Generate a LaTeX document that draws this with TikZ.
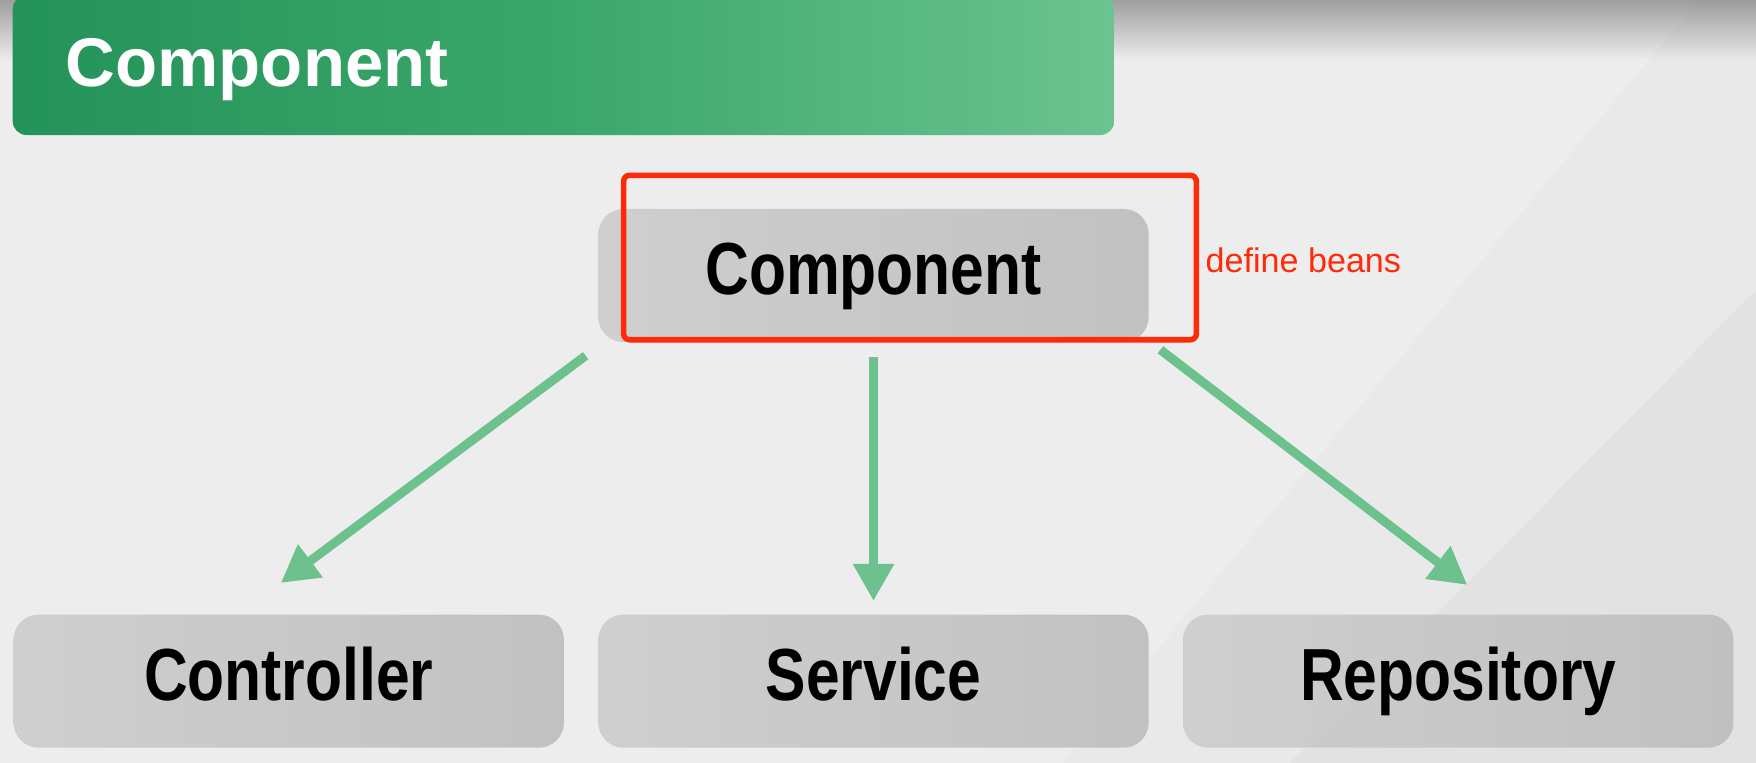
\documentclass[tikz,border=0pt]{standalone}
\usepackage{fontspec}
\setmainfont{Liberation Sans}
\newfontfamily\boxfont{Liberation Sans}[FakeStretch=0.82]
\usepackage{xcolor}
\usepackage{tikz}
\usetikzlibrary{positioning,arrows.meta,fadings}
\tikzset{>={Triangle[length=3.7mm,width=3.9mm]}}

\definecolor{slidebg}{HTML}{EDEDED}
\definecolor{bandlight}{HTML}{E9E9E9}
\definecolor{banddark}{HTML}{E2E2E2}
\definecolor{bannerdark}{HTML}{24935A}
\definecolor{bannermid}{HTML}{3BA76A}
\definecolor{bannerlight}{HTML}{6CC390}
\definecolor{boxleft}{HTML}{CDCDCD}
\definecolor{boxright}{HTML}{BEBEBE}
\definecolor{flowgreen}{HTML}{6CC18D}
\definecolor{markred}{HTML}{FF2A0A}

\begin{document}
\begin{tikzpicture}[x=0.01cm, y=-0.01cm,
squarednode/.style={rectangle, rounded corners=2.5mm, left color=boxleft, right color=boxright, fill opacity=0.92, text opacity=1, minimum width=5.5cm, minimum height=1.33cm, inner sep=0pt, font=\boxfont\bfseries\fontsize{21}{24}\selectfont, text height=15.3pt, text depth=4.4pt},
banner/.style={rectangle, rounded corners=1.4mm, left color=bannerdark, right color=bannerlight, middle color=bannermid, minimum width=11.01cm, minimum height=1.40cm, inner sep=0pt},
titletext/.style={text=white, inner sep=0pt, font=\bfseries\fontsize{19.6}{22}\selectfont},
note/.style={text=markred, inner sep=0pt, font=\fontsize{9.7}{11}\selectfont},
highlight/.style={draw=markred, line width=0.055cm, rounded corners=0.6mm},
flowline/.style={->, draw=flowgreen, line width=0.09cm},
]
\useasboundingbox (0,0) rectangle (1756,763);

%Background
\fill[slidebg] (0,0) rectangle (1756,763);
\fill[bandlight] (1063,763) -- (1699,0) -- (1756,0) -- (1756,763) -- cycle;
\fill[banddark] (1290,763) -- (1756,290) -- (1756,763) -- cycle;
\fill[black, opacity=0.33, path fading=south] (0,0) rectangle (1756,60);

%Title
\node[banner](Banner) at (563.5,65) {};
\node[titletext, anchor=base west](Title) at (65,86) {Component};

%Nodes
\node[squarednode](Component) at (873.5,275.5) {Component};
\node[squarednode](Service)[below=2.71cm of Component]{Service};
\node[squarednode](Controller)[left=0.33cm of Service]{Controller};
\node[squarednode](Repository)[right=0.33cm of Service]{Repository};

%Mark
\draw[highlight] ([shift={(26,-33)}]Component.north west) rectangle ([shift={(47,-3)}]Component.south east);
\node[note, anchor=base west](Beans) at (1205,272) {define beans};

%Lines
\draw[flowline] ([shift={(-12,13)}]Component.south west) -- ([shift={(-8,-31)}]Controller.north);
\draw[flowline] ([shift={(0,14)}]Component.south) -- ([shift={(0,-13)}]Service.north);
\draw[flowline] ([shift={(11,7)}]Component.south east) -- ([shift={(9,-29)}]Repository.north);

\end{tikzpicture}
\end{document}
